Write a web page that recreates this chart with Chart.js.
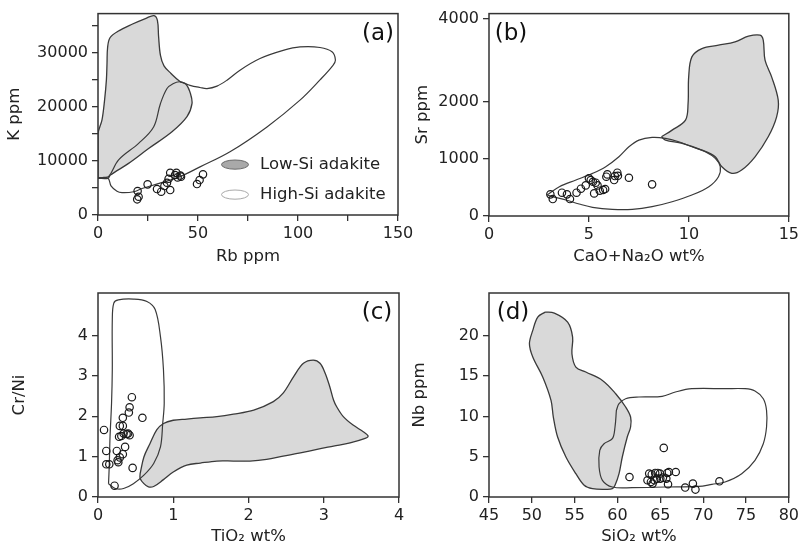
<!DOCTYPE html>
<html><head><meta charset="utf-8">
<script src="https://cdn.jsdelivr.net/npm/chart.js@4"></script>
<style>
html,body{margin:0;padding:0;background:#fff;}
#wrap{position:relative;width:802px;height:550px;background:#fff;}
canvas{position:absolute;left:0;top:0;}
</style></head><body>
<div id="wrap">
<canvas id="ca" width="802" height="550"></canvas>
<canvas id="cb" width="802" height="550"></canvas>
<canvas id="cc" width="802" height="550"></canvas>
<canvas id="cd" width="802" height="550"></canvas>
</div>
<script>
// ---------- DATA ----------
const seriesLabels = ['Samples', 'High-Si adakite', 'Low-Si adakite'];

// (a) Rb ppm vs K ppm
const aSamples = [[19.8,4435],[20.3,3380],[19.6,2900],[24.8,5670],[29.5,4800],[31.6,4310],[33.2,5360],[34.5,5970],[35.3,6700],[36.1,7820],[36.1,4620],[38.5,7400],[39.2,7800],[39.8,6960],[41.2,7300],[41.5,7100],[49.5,5730],[50.8,6470],[52.5,7520]];
const aHighSi = [[0,6900],[5,6800],[6.5,5400],[9.5,4400],[12,4150],[17.8,4300],[22,4900],[31,5900],[41,7100],[51,8900],[66,11700],[84.5,16300],[101,21250],[111,25000],[117.5,27700],[118.7,28700],[117,30200],[111,31000],[101,31100],[93,30500],[81,28950],[71,26800],[64.5,24950],[59.5,23850],[54.5,23400],[51,23600],[46,24000],[41,24650],[37.5,24300],[34.5,23400],[31.2,20600],[27.8,16300],[20.3,13250],[10.3,10200],[5.5,7200],[3,6950],[0,6900]];
const aLowSi = [[0,6800],[0,15000],[2,17600],[3.3,21300],[4.2,25000],[4.5,28000],[4.8,31000],[6,32800],[10,34000],[17,35300],[24,36400],[28,36900],[29.7,36000],[30.3,33000],[31.2,29600],[33,27600],[36.5,26200],[41,24700],[44,24200],[46.2,22500],[47,20600],[44.5,18200],[37,15400],[25.3,12300],[15.3,9550],[6.2,7400],[5,6800],[0,6800]];
const aXTicks = [0,25,50,75,100,125,150], aXLabels = [0,50,100,150];
const aYTicks = [0,5000,10000,15000,20000,25000,30000,35000], aYLabels = [0,10000,20000,30000];

// (b) CaO+Na2O wt% vs Sr ppm
const bSamples = [[3.07,379],[3.19,297],[3.65,408],[3.9,379],[4.05,297],[4.38,408],[4.6,478],[4.84,536],[5.09,630],[5.26,396],[5.34,583],[5.43,536],[5.54,443],[5.71,455],[5.81,472],[5.87,688],[5.92,729],[6.26,630],[6.3,700],[6.42,758],[6.45,705],[7.0,670],[8.16,554],[5.0,660],[5.2,600]];
const bHighSi = [[2.91,367],[3.52,513],[4.35,630],[5.18,746],[5.84,863],[6.5,1038],[7.0,1213],[7.5,1329],[8.16,1376],[8.83,1359],[9.49,1300],[10.15,1213],[10.82,1125],[11.32,1009],[11.57,863],[11.48,688],[11.0,513],[10.15,367],[9.16,250],[8.16,163],[7.17,117],[6.17,117],[5.18,152],[4.51,210],[3.85,280],[3.19,338],[2.91,367]];
const bLowSi = [[8.63,1387],[9.16,1504],[9.83,1679],[9.96,1971],[9.99,2600],[10.15,3080],[10.65,3280],[11.48,3360],[12.31,3440],[12.98,3576],[13.56,3600],[13.72,3480],[13.81,3000],[14.14,2600],[14.47,2040],[14.39,1737],[13.97,1387],[13.31,1037],[12.64,805],[12.15,747],[11.65,862],[11.32,1037],[10.65,1155],[9.66,1272],[8.83,1329],[8.63,1387]];
const bXTicks = [0,5,10,15];
const bYTicks = [0,1000,2000,4000];

// (c) TiO2 wt% vs Cr/Ni
const cSamples = [[0.45,2.47],[0.42,2.22],[0.41,2.09],[0.33,1.96],[0.59,1.96],[0.08,1.66],[0.29,1.76],[0.33,1.76],[0.31,1.51],[0.34,1.57],[0.38,1.56],[0.4,1.57],[0.42,1.53],[0.36,1.24],[0.11,1.14],[0.25,1.14],[0.33,1.06],[0.29,0.98],[0.26,0.91],[0.11,0.81],[0.15,0.81],[0.27,0.86],[0.46,0.72],[0.22,0.28],[0.28,1.49]];
const cHighSi = [[0.14,0.33],[0.15,0.8],[0.16,1.49],[0.18,2.32],[0.19,3.15],[0.19,4.39],[0.21,4.8],[0.27,4.88],[0.47,4.9],[0.65,4.84],[0.76,4.64],[0.83,3.97],[0.87,3.15],[0.88,2.32],[0.86,1.82],[0.83,1.24],[0.74,0.83],[0.61,0.54],[0.47,0.33],[0.34,0.21],[0.23,0.21],[0.14,0.33]];
const cLowSi = [[0.56,0.58],[0.61,0.99],[0.69,1.32],[0.78,1.66],[0.87,1.82],[1.0,1.9],[1.18,1.93],[1.36,1.96],[1.58,1.99],[1.8,2.05],[2.07,2.15],[2.33,2.36],[2.46,2.57],[2.6,2.98],[2.73,3.31],[2.86,3.39],[2.95,3.31],[3.02,3.06],[3.08,2.73],[3.13,2.4],[3.17,2.24],[3.26,1.99],[3.39,1.78],[3.53,1.61],[3.59,1.51],[3.55,1.45],[3.35,1.34],[3.13,1.26],[2.91,1.18],[2.69,1.09],[2.46,1.01],[2.24,0.93],[2.02,0.89],[1.8,0.89],[1.58,0.89],[1.36,0.84],[1.18,0.79],[1.0,0.62],[0.87,0.43],[0.74,0.26],[0.67,0.25],[0.61,0.33],[0.56,0.46],[0.56,0.58]];
const cXTicks = [0,1,2,3,4];
const cYTicks = [0,1,2,3,4];

// (d) SiO2 wt% vs Nb ppm
const dSamples = [[61.4,2.48],[65.4,6.09],[63.7,2.9],[64.0,2.8],[64.4,2.98],[64.7,2.98],[64.95,2.9],[65.8,2.98],[66.0,3.1],[66.8,3.1],[63.5,2.07],[63.9,1.87],[64.3,2.07],[64.6,2.28],[65.0,2.28],[65.3,2.4],[65.7,2.28],[65.9,1.58],[64.1,1.66],[67.9,1.17],[68.8,1.66],[69.1,0.92],[71.9,1.95]];
const dHighSi = [[59.87,10.74],[60.18,11.57],[60.95,12.19],[62.5,12.4],[65.21,12.48],[66.76,13.02],[68.69,13.43],[72.56,13.43],[74.89,13.43],[76.05,13.14],[77.02,12.19],[77.4,10.74],[77.4,8.68],[77.02,6.61],[76.05,4.55],[74.5,2.89],[72.56,1.86],[71.02,1.57],[69.47,1.32],[65.6,1.24],[61.72,1.16],[59.4,1.24],[58.24,2.07],[57.85,3.72],[57.93,5.79],[58.43,6.61],[59.4,7.23],[59.71,8.68],[59.87,10.74]];
const dLowSi = [[51.54,22.93],[52.63,22.81],[54.18,21.69],[54.76,19.83],[54.68,17.77],[55.14,16.12],[56.3,15.5],[58.24,14.46],[59.79,12.81],[60.95,11.16],[61.53,9.92],[61.53,8.68],[61.14,7.44],[60.56,4.96],[60.18,2.89],[59.71,1.45],[59.4,1.03],[58.63,0.95],[57.08,1.03],[56.11,1.45],[55.14,2.89],[53.98,4.96],[53.01,7.44],[52.51,9.92],[52.24,11.98],[51.27,14.88],[50.11,17.36],[49.72,19.01],[50.11,20.66],[50.69,22.31],[51.54,22.93]];
const dXTicks = [45,50,55,60,65,70,75,80];
const dYTicks = [0,5,10,15,20];

// ---------- STYLE ----------
const FONT = 'DejaVu Sans';
Chart.defaults.font.family = FONT;
Chart.defaults.font.size = 16;
Chart.defaults.color = '#222';
const LINE = '#3a3a3a', FILL = '#d9d9d9', AXIS = '#333';

// Piecewise-linear value scale for panel (b), whose Sr axis is compressed above 2000.
const bBreaks = { values: [0, 2000, 4000], fractions: [0, 0.564, 0.975] };
class BrokenLinearScale extends Chart.LinearScale {
  _toFrac(v) {
    const V = bBreaks.values, F = bBreaks.fractions;
    let i = 0;
    while (i < V.length - 2 && v > V[i + 1]) i++;
    return F[i] + (v - V[i]) * (F[i + 1] - F[i]) / (V[i + 1] - V[i]);
  }
  _fromFrac(f) {
    const V = bBreaks.values, F = bBreaks.fractions;
    let i = 0;
    while (i < F.length - 2 && f > F[i + 1]) i++;
    return V[i] + (f - F[i]) * (V[i + 1] - V[i]) / (F[i + 1] - F[i]);
  }
  getPixelForValue(value) {
    if (value === null || value === undefined || isNaN(value)) return NaN;
    const f0 = this._toFrac(this.min), f1 = this._toFrac(this.max);
    return this.getPixelForDecimal((this._toFrac(value) - f0) / (f1 - f0));
  }
  getValueForPixel(pixel) {
    const f0 = this._toFrac(this.min), f1 = this._toFrac(this.max);
    return this._fromFrac(f0 + this.getDecimalForPixel(pixel) * (f1 - f0));
  }
}
BrokenLinearScale.id = 'brokenLinear';
BrokenLinearScale.defaults = Chart.LinearScale.defaults;
Chart.register(BrokenLinearScale);

const framePlugin = {
  id: 'frame',
  afterDatasetsDraw(chart, args, o) {
    const { ctx, chartArea: { left, top, right, bottom } } = chart;
    ctx.save();
    ctx.strokeStyle = AXIS; ctx.lineWidth = 1.5;
    ctx.strokeRect(left, top, right - left, bottom - top);
    ctx.fillStyle = '#111';
    ctx.font = '23px "' + FONT + '"';
    ctx.textBaseline = 'middle'; ctx.textAlign = 'center';
    const x = o.side === 'right' ? right + o.dx : left + o.dx;
    ctx.fillText(o.label, x, top + o.dy);
    ctx.restore();
  }
};

const legendPlugin = {
  id: 'ellLegend',
  afterDatasetsDraw(chart, args, o) {
    if (!o.show) return;
    const { ctx, chartArea: { left, top } } = chart;
    ctx.save();
    ctx.font = '16.5px "' + FONT + '"';
    ctx.textBaseline = 'middle'; ctx.textAlign = 'left';
    const items = [
      { label: chart.data.datasets[2].label, fill: '#a9a9a9', stroke: '#6a6a6a' },
      { label: chart.data.datasets[1].label, fill: '#ffffff', stroke: '#a8a8a8' }
    ];
    items.forEach((it, i) => {
      const cx = left + o.x, cy = top + o.y + i * o.gap;
      ctx.beginPath();
      ctx.ellipse(cx, cy, 13.5, 4.6, 0, 0, Math.PI * 2);
      ctx.fillStyle = it.fill; ctx.fill();
      ctx.lineWidth = 1; ctx.strokeStyle = it.stroke; ctx.stroke();
      ctx.fillStyle = '#222';
      ctx.fillText(it.label, cx + 25, cy);
    });
    ctx.restore();
  }
};

const toXY = arr => arr.map(p => ({ x: p[0], y: p[1] }));

function makePanel(id, p) {
  const tickCb = labels => v => (labels ? (labels.includes(v) ? String(v) : '') : String(v));
  const grid = { drawOnChartArea: false, drawTicks: true, tickLength: 6, color: AXIS, lineWidth: 1.3 };
  return new Chart(document.getElementById(id), {
    type: 'scatter',
    data: {
      datasets: [
        { label: seriesLabels[0], data: toXY(p.samples), showLine: false, pointRadius: 3.7, pointBorderWidth: 1.2,
          pointBackgroundColor: 'rgba(0,0,0,0)', pointBorderColor: '#1a1a1a' },
        { label: seriesLabels[1], data: toXY(p.high), showLine: true, fill: false, tension: 0.35,
          borderColor: LINE, borderWidth: 1.2, pointRadius: 0 },
        { label: seriesLabels[2], data: toXY(p.low), showLine: true, fill: 'shape', tension: 0.35,
          backgroundColor: FILL, borderColor: LINE, borderWidth: 1.3, pointRadius: 0 }
      ]
    },
    options: {
      responsive: false, animation: false, devicePixelRatio: 1,
      layout: { autoPadding: false, padding: p.pad },
      plugins: {
        legend: { display: false }, tooltip: { enabled: false },
        frame: p.frame, ellLegend: p.legend || { show: false }
      },
      scales: {
        x: {
          type: 'linear', position: 'bottom', min: p.xr[0], max: p.xr[1],
          afterFit: s => { s.height = p.xh; },
          afterBuildTicks: s => { s.ticks = p.xt.map(v => ({ value: v })); },
          ticks: { autoSkip: false, maxRotation: 0, padding: 3, callback: tickCb(p.xl) },
          grid, border: { display: false },
          title: { display: true, text: p.xtitle, font: { size: 16.5 }, padding: { top: 0, bottom: p.xtp } }
        },
        y: {
          type: p.ytype || 'linear', position: 'left', min: p.yr[0], max: p.yr[1],
          afterFit: s => { s.width = p.yw; },
          afterBuildTicks: s => { s.ticks = p.yt.map(v => ({ value: v })); },
          ticks: { autoSkip: false, padding: 4, callback: tickCb(p.yl) },
          grid, border: { display: false },
          title: { display: true, text: p.ytitle, font: { size: 16.5 }, padding: { top: p.ytp, bottom: 0 } }
        }
      }
    },
    plugins: [framePlugin, legendPlugin]
  });
}

makePanel('ca', {
  samples: aSamples, high: aHighSi, low: aLowSi,
  xr: [0, 150], yr: [0, 37270], xt: aXTicks, xl: aXLabels, yt: aYTicks, yl: aYLabels,
  xtitle: 'Rb ppm', ytitle: 'K ppm',
  pad: { left: 0, right: 404, top: 13, bottom: 275 }, xh: 60, yw: 98, xtp: 8, ytp: 5,
  frame: { label: '(a)', side: 'right', dx: -20, dy: 20 },
  legend: { show: true, x: 137, y: 151, gap: 30 }
});
makePanel('cb', {
  samples: bSamples, high: bHighSi, low: bLowSi, ytype: 'brokenLinear',
  xr: [0, 15], yr: [0, 4120], xt: bXTicks, yt: bYTicks,
  xtitle: 'CaO+Na\u2082O wt%', ytitle: 'Sr ppm',
  pad: { left: 401, right: 11, top: 13, bottom: 275 }, xh: 59, yw: 88, xtp: 8, ytp: 12,
  frame: { label: '(b)', side: 'left', dx: 22, dy: 20 }
});
makePanel('cc', {
  samples: cSamples, high: cHighSi, low: cLowSi,
  xr: [0, 4], yr: [0, 5.05], xt: cXTicks, yt: cYTicks,
  xtitle: 'TiO\u2082 wt%', ytitle: 'Cr/Ni',
  pad: { left: 0, right: 403, top: 293, bottom: 0 }, xh: 53, yw: 98, xtp: 3, ytp: 10,
  frame: { label: '(c)', side: 'right', dx: -22, dy: 20 }
});
makePanel('cd', {
  samples: dSamples, high: dHighSi, low: dLowSi,
  xr: [45, 80], yr: [0, 25.3], xt: dXTicks, yt: dYTicks,
  xtitle: 'SiO\u2082 wt%', ytitle: 'Nb ppm',
  pad: { left: 401, right: 11, top: 293, bottom: 0 }, xh: 53, yw: 88, xtp: 3, ytp: 9,
  frame: { label: '(d)', side: 'left', dx: 24, dy: 20 }
});
</script>
</body></html>
